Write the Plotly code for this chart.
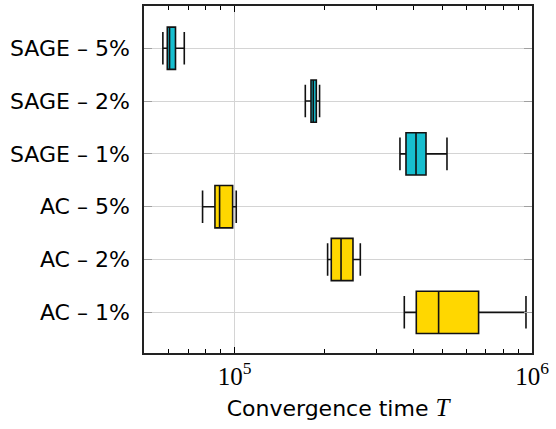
import plotly.graph_objects as go
import math

categories = ["SAGE – 5%", "SAGE – 2%", "SAGE – 1%", "AC – 5%", "AC – 2%", "AC – 1%"]
groups = ["SAGE", "SAGE", "SAGE", "AC", "AC", "AC"]
lower = [57400, 172900, 359800, 78050, 205500, 372100]
q1 = [59400, 180700, 377000, 85900, 211400, 408300]
median = [60450, 183900, 407400, 89050, 228000, 485300]
q3 = [63300, 188300, 440200, 98500, 250100, 661400]
upper = [67750, 193100, 517800, 101300, 264700, 954500]

colors = {"SAGE": "#17BECF", "AC": "#FFD700"}

fig = go.Figure()
for g in ["SAGE", "AC"]:
    idx = [i for i, gg in enumerate(groups) if gg == g]
    fig.add_trace(go.Box(
        y=[categories[i] for i in idx],
        lowerfence=[lower[i] for i in idx],
        q1=[q1[i] for i in idx],
        median=[median[i] for i in idx],
        q3=[q3[i] for i in idx],
        upperfence=[upper[i] for i in idx],
        orientation="h",
        fillcolor=colors[g],
        line=dict(color="#111111", width=1.6),
        width=0.8,
        whiskerwidth=0.77,
        showlegend=False,
        hoverinfo="skip",
    ))

minor_vals = [v * 1e4 for v in range(6, 10)] + [v * 1e5 for v in range(2, 10)]

fig.update_layout(
    width=556, height=429,
    margin=dict(l=144, r=24, t=4, b=76),
    plot_bgcolor="white", paper_bgcolor="white",
    font=dict(family="DejaVu Sans", size=22, color="black"),
    boxmode="overlay",
    xaxis=dict(
        type="log",
        range=[math.log10(4.96e4), 6.0],
        tickvals=[1e5, 1e6],
        ticktext=["10<sup>5</sup>", "10<sup>6</sup>"],
        tickfont=dict(family="Liberation Serif", size=25),
        ticks="inside", ticklen=6, tickcolor="black", tickwidth=1,
        showline=True, linecolor="#222222", linewidth=1.6, mirror="ticks",
        showgrid=True, gridcolor="#d4d4d4", gridwidth=1,
        zeroline=False,
        minor=dict(tickvals=minor_vals, ticks="inside", ticklen=4,
                   tickcolor="black", tickwidth=1, showgrid=False),
        title=dict(
            text='Convergence time <span style="font-family:Liberation Serif;font-size:25px"><i>T</i></span>',
            font=dict(family="DejaVu Sans", size=22), standoff=12),
    ),
    yaxis=dict(
        type="category",
        categoryorder="array",
        categoryarray=categories[::-1],
        range=[-0.77, 5.8],
        ticks="inside", ticklen=8, tickcolor="#a0a0a0", tickwidth=1,
        showline=True, linecolor="#222222", linewidth=1.6, mirror="ticks",
        showgrid=True, gridcolor="#d4d4d4", gridwidth=1,
        zeroline=False,
        ticklabelstandoff=8,
    ),
)

fig.write_html("out.html")
